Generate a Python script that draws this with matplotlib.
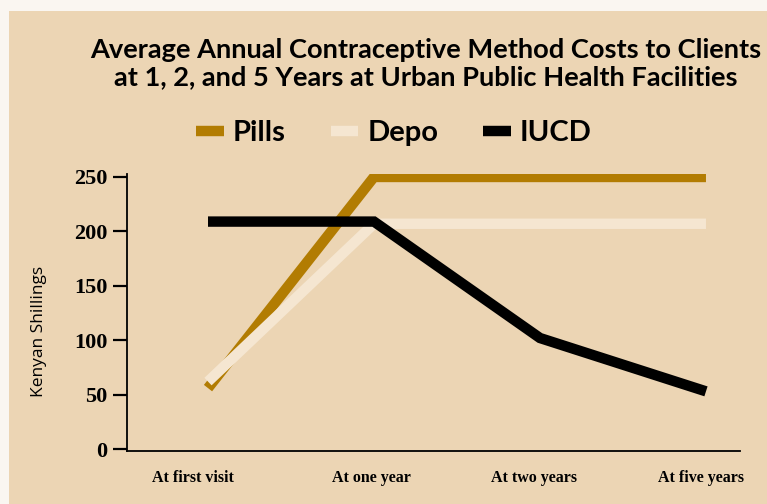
import matplotlib.pyplot as plt
import matplotlib.transforms as mtransforms
from matplotlib.patches import Rectangle

# Data
periods = ['At first visit', 'At one year', 'At two years', 'At five years']
pills = [56, 250, 250, 250]
depo = [62, 207, 207, 207]
iucd = [209, 209, 102, 53]
yticks = [0, 50, 100, 150, 200, 250]

bg = '#ECD5B4'
fig = plt.figure(figsize=(7.67, 5.04), dpi=100, facecolor='#FAF6F1')
fig.patches.append(Rectangle((9 / 767, 0), 1, 1 - 11 / 504, transform=fig.transFigure,
                             facecolor=bg, edgecolor='none', zorder=-10))

ax = fig.add_axes([127 / 767, 1 - 451 / 504, (740 - 127) / 767, (451 - 173.7) / 504])
ax.set_facecolor('none')

x = list(range(len(periods)))
line_kw = dict(linewidth=7.5, solid_joinstyle='miter', solid_capstyle='butt')
ax.plot(x, pills, color='#B27C02', label='Pills', zorder=3, **line_kw)
ax.plot(x, depo, color='#F5E6D1', label='Depo', zorder=4, **line_kw)
ax.plot(x, iucd, color='black', label='IUCD', zorder=5, **line_kw)

ax.set_xlim(-0.488, 3.205)
ax.set_ylim(-1.8, 253)
for s in ['top', 'right']:
    ax.spines[s].set_visible(False)
for s in ['left', 'bottom']:
    ax.spines[s].set_linewidth(1.3)

ax.set_yticks(yticks)
ax.set_yticklabels([str(v) for v in yticks], fontfamily='Liberation Serif',
                   fontweight='bold', fontsize=16)
ax.tick_params(axis='y', direction='out', length=10, width=1.6, pad=4)
ax.set_xticks(x)
ax.set_xticklabels(periods, fontfamily='Liberation Serif', fontweight='bold', fontsize=11.5)
ax.tick_params(axis='x', length=0, pad=14)
# nudge the category labels slightly left as in the original layout
shifts = [-15, -3, -6, -5]
for lbl, dx in zip(ax.get_xticklabels(), shifts):
    lbl.set_transform(lbl.get_transform() +
                      mtransforms.ScaledTranslation(dx / 100, 0, fig.dpi_scale_trans))

ax.set_ylabel('Kenyan Shillings', fontfamily='Open Sans', fontsize=12.5)
ax.yaxis.set_label_coords(-0.13, 0.43)

fig.text(426 / 767, 1 - 63.5 / 504,
         'Average Annual Contraceptive Method Costs to Clients\n'
         'at 1, 2, and 5 Years at Urban Public Health Facilities',
         ha='center', va='center', fontfamily='Lato', fontweight='bold',
         fontsize=19.6, linespacing=1.15)

fig.legend(loc='center', bbox_to_anchor=(394 / 767, 1 - 133 / 504), ncol=3,
           frameon=False, prop={'family': 'Lato', 'weight': 'bold', 'size': 21},
           handlelength=0.95, handletextpad=0.3, columnspacing=1.55)

plt.savefig('out.png', dpi=100, facecolor=fig.get_facecolor())
